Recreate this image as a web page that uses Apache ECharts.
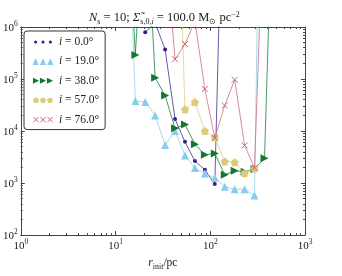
<!DOCTYPE html>
<html>
<head>
<meta charset="utf-8">
<script src="https://cdn.jsdelivr.net/npm/echarts@6/dist/echarts.min.js"></script>
<style>
html,body{margin:0;padding:0;background:#fff;}
#c{width:342px;height:276px;}
</style>
</head>
<body>
<div id="c"></div>
<script>
// r_init values (pc)
const rInit = [12.7, 16.2, 20.6, 26.2, 33.4, 42.5, 54.1, 68.9, 87.7, 111.7, 142.2, 181, 230.5, 293, 374, 476];
// series values (null = no point)
const inc0  = [null, null, 7.9e5, 1.2e6, 3.7e5, 1.7e4, 6.2e3, 2.65e3, 1.8e3, 960, 3e10, null, null, null, null, null];
const inc19 = [5.6e9, 3.8e4, 3.6e4, 2.0e4, 5.4e3, 1.0e4, 3.4e3, 1.95e3, 1.52e3, 1.27e3, 850, 760, 760, 575, 1e15, null];
const inc38 = [2.5e9, 2.9e5, 5e8, 1.06e5, 4.8e4, 1.13e4, 1.34e4, 5.6e3, 3.5e3, 3.7e3, 1.44e3, 1.72e3, 1.65e3, 1.85e3, 3.0e3, 6e9];
const inc57 = [null, null, null, null, null, 3e10, 2.6e4, 3.6e4, 1.0e4, 7.5e3, 2.6e3, 2.5e3, 1.54e3, 1.9e3, null, null];
const inc76 = [null, null, null, null, 5.8e7, 2.4e5, 4.7e5, 1.3e6, 6.4e4, 7.4e3, 3.1e4, 9.7e4, 5.3e3, 1.95e3, 5e8, null];
const seriesNames = ['i = 0.0°', 'i = 19.0°', 'i = 38.0°', 'i = 57.0°', 'i = 76.0°'];
const xTicks = [1, 10, 100, 1000];
const yTicks = [100, 1000, 10000, 100000, 1000000];

const FONT = 'Liberation Serif';
const colors = ['#332288', '#88CCEE', '#117733', '#DDCC77', '#CC6677'];

function minorValues(lo, hi) {
  const out = [];
  for (let d = lo; d < hi; d *= 10) for (let k = 2; k <= 9; k++) out.push(d * k);
  return out;
}
const pairs = arr => rInit.map((x, i) => [x, arr[i]]);

const P_DOT = 'path://M0,0 M24,8 M1.8,4a1.8,1.8 0 1,0 3.6,0a1.8,1.8 0 1,0 -3.6,0Z M10.2,4a1.8,1.8 0 1,0 3.6,0a1.8,1.8 0 1,0 -3.6,0Z M18.6,4a1.8,1.8 0 1,0 3.6,0a1.8,1.8 0 1,0 -3.6,0Z';
const P_UP = 'path://M0,0 M24,8 M0,8L3.6,0.5L7.2,8Z M8.4,8L12,0.5L15.6,8Z M16.8,8L20.4,0.5L24,8Z';
const P_RIGHT = 'path://M0,0 M24,8 M0.5,0.5L7.5,4L0.5,7.5Z M8.5,0.5L15.5,4L8.5,7.5Z M16.5,0.5L23.5,4L16.5,7.5Z';
function pent(cx, cy, r) {
  let s = '';
  for (let k = 0; k < 5; k++) {
    const a = -Math.PI / 2 + k * 2 * Math.PI / 5;
    s += (k === 0 ? 'M' : 'L') + (cx + r * Math.cos(a)).toFixed(2) + ',' + (cy + r * Math.sin(a)).toFixed(2);
  }
  return s + 'Z ';
}
const P_PENT = 'path://M0,0 M24,8 ' + pent(4, 4.3, 3.7) + pent(12, 4.3, 3.7) + pent(20, 4.3, 3.7);
const P_X = 'path://M0,0 M24,8 M1,1L7,7M1,7L7,1 M9,1L15,7M9,7L15,1 M17,1L23,7M17,7L23,1';

const PENT_SYM = 'path://' + pent(5, 5.3, 5);
const axisColor = '#444';
const labelRich = {
  b: {fontFamily: FONT, fontSize: 11, color: '#222', lineHeight: 14, verticalAlign: 'bottom'},
  s: {fontFamily: FONT, fontSize: 7.5, color: '#222', lineHeight: 14, verticalAlign: 'top'}
};
const powFmt = v => '{b|10}{s|' + Math.round(Math.log10(v)) + '}';

function xAx(pos, major, labels) {
  return {
    type: 'log', logBase: 10, min: 1, max: 1000, position: pos, gridIndex: 0,
    axisLine: {show: major, lineStyle: {color: axisColor, width: 1}},
    axisTick: major ? {show: true, inside: true, length: 4, lineStyle: {color: axisColor}, customValues: xTicks}
                    : {show: true, inside: true, length: 2, lineStyle: {color: axisColor}, customValues: minorValues(1, 1000)},
    axisLabel: labels ? {show: true, formatter: powFmt, rich: labelRich, margin: 3, customValues: xTicks} : {show: false},
    splitLine: {show: false},
    name: labels ? '{it|r}{sub|init}{n|/pc}' : '',
    nameLocation: 'middle', nameGap: 20,
    nameTextStyle: {fontWeight: 'normal', rich: {
      it: {fontFamily: FONT, fontStyle: 'italic', fontWeight: 'normal', fontSize: 11.5, color: '#222', lineHeight: 14, verticalAlign: 'top'},
      sub: {fontFamily: FONT, fontWeight: 'normal', fontSize: 8, color: '#222', lineHeight: 14, verticalAlign: 'bottom'},
      n: {fontFamily: FONT, fontWeight: 'normal', fontSize: 11.5, color: '#222', lineHeight: 14, verticalAlign: 'top'}
    }}
  };
}
function yAx(pos, major, labels) {
  return {
    type: 'log', logBase: 10, min: 100, max: 1e6, position: pos, gridIndex: 0,
    axisLine: {show: major, lineStyle: {color: axisColor, width: 1}},
    axisTick: major ? {show: true, inside: true, length: 4, lineStyle: {color: axisColor}, customValues: yTicks}
                    : {show: true, inside: true, length: 2, lineStyle: {color: axisColor}, customValues: minorValues(100, 1e6)},
    axisLabel: labels ? {show: true, formatter: powFmt, rich: labelRich, margin: 3, customValues: yTicks} : {show: false},
    splitLine: {show: false}
  };
}

const symDefs = [
  {symbol: 'circle', size: 4, icon: P_DOT},
  {symbol: 'triangle', size: 8, icon: P_UP},
  {symbol: 'path://M0,0L10,5L0,10Z', size: 8, icon: P_RIGHT},
  {symbol: PENT_SYM, size: 8, icon: P_PENT},
  {symbol: 'path://M0,0L10,10M0,10L10,0', size: 6, icon: P_X}
];
const allData = [inc0, inc19, inc38, inc57, inc76];

const series = allData.map((arr, k) => {
  const isX = k === 4;
  return {
    name: seriesNames[k], type: 'line', data: pairs(arr),
    xAxisIndex: 0, yAxisIndex: 0,
    symbol: symDefs[k].symbol, symbolSize: symDefs[k].size, showSymbol: true,
    showAllSymbol: true, clip: true, connectNulls: false,
    lineStyle: {color: colors[k], width: 1, opacity: 0.75},
    itemStyle: isX ? {color: 'none', borderColor: colors[k], borderWidth: 1} : {color: colors[k], borderWidth: 0},
    emphasis: {disabled: true}, animation: false, z: 2 + k
  };
});

const titleBase = {fontFamily: FONT, fontWeight: 'normal', color: '#222', lineHeight: 15};
const chart = echarts.init(document.getElementById('c'), null, {renderer: 'canvas'});
chart.setOption({
  animation: false,
  backgroundColor: '#fff',
  grid: {left: 19, right: 37, top: 27, bottom: 29, containLabel: false},
  title: {
    text: '{it|N}{sub|s}{n| = 10; }{it|Σ̃}{sub|s,0,}{subi|i}{n| = 100.0 M}{sub|⊙}{n| pc}{sup|−2}',
    left: 84, top: 6,
    textStyle: {fontWeight: 'normal', fontFamily: FONT, rich: {
      it: Object.assign({}, titleBase, {fontStyle: 'italic', fontSize: 12.5, verticalAlign: 'top'}),
      n: Object.assign({}, titleBase, {fontSize: 12.5, verticalAlign: 'top'}),
      sub: Object.assign({}, titleBase, {fontSize: 8, verticalAlign: 'bottom'}),
      subi: Object.assign({}, titleBase, {fontStyle: 'italic', fontSize: 8, verticalAlign: 'bottom'}),
      sup: Object.assign({}, titleBase, {fontSize: 8, verticalAlign: 'top', padding: [0, 0, 4, 0]})
    }}
  },
  legend: {
    orient: 'vertical', left: 24, top: 31,
    backgroundColor: '#fff', borderColor: '#333', borderWidth: 1, borderRadius: 3,
    padding: [5, 6, 4, 6], itemWidth: 22, itemHeight: 7, itemGap: 7.4,
    data: seriesNames.map((n, k) => ({name: n, icon: symDefs[k].icon})),
    formatter: n => '{it|i}{n|' + n.slice(1) + '}',
    textStyle: {rich: {
      it: {fontFamily: FONT, fontStyle: 'italic', fontSize: 11.5, color: '#222'},
      n: {fontFamily: FONT, fontSize: 11.5, color: '#222'}
    }},
    itemStyle: {borderWidth: 1},
    selectedMode: false, z: 10
  },
  xAxis: [xAx('bottom', true, true), xAx('bottom', false, false), xAx('top', true, false), xAx('top', false, false)],
  yAxis: [yAx('left', true, true), yAx('left', false, false), yAx('right', true, false), yAx('right', false, false)],
  series: series
});
</script>
</body>
</html>
